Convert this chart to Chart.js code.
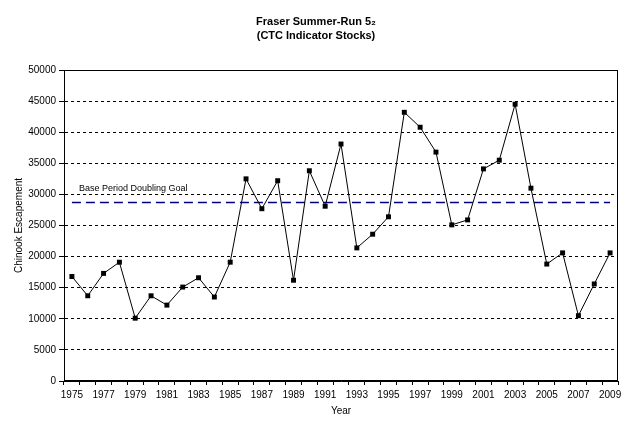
<!DOCTYPE html>
<html lang="en">

<head>
    <title>Fraser Summer-Run 5₂</title>
    <meta charset="utf-8">
    <script src="https://cdn.jsdelivr.net/npm/chart.js"></script>
    <style>
        html, body {
            margin: 0;
            padding: 0;
            background-color: white;
        }

        .chart-box {
            width: 630px;
            height: 430px;
        }
    </style>
</head>

<body>
    <div class="chart-box">
        <canvas id="escChart" width="630" height="430"></canvas>
    </div>

    <script>
        // data
        const years = ['1975', '1976', '1977', '1978', '1979', '1980', '1981', '1982', '1983', '1984',
            '1985', '1986', '1987', '1988', '1989', '1990', '1991', '1992', '1993', '1994',
            '1995', '1996', '1997', '1998', '1999', '2000', '2001', '2002', '2003', '2004',
            '2005', '2006', '2007', '2008', '2009'];
        const escapement = [16800, 13700, 17300, 19100, 10100, 13700, 12200, 15100, 16600, 13500,
            19100, 32500, 27700, 32200, 16200, 33800, 28100, 38100, 21400, 23600,
            26400, 43200, 40800, 36800, 25100, 25900, 34100, 35500, 44500, 31000,
            18800, 20600, 10500, 15600, 20600];
        const goalValue = 28700;
        const goalLabel = 'Base Period Doubling Goal';
        const yTicks = [0, 5000, 10000, 15000, 20000, 25000, 30000, 35000, 40000, 45000, 50000];

        const FONT = 'Liberation Sans, Arial, sans-serif';

        // title, goal label and frame round the plot area
        const extras = {
            id: 'extras',
            afterDraw(chart) {
                const ctx = chart.ctx;
                const a = chart.chartArea;
                const y = chart.scales.y;
                const x = chart.scales.x;
                ctx.save();
                ctx.strokeStyle = '#000';
                ctx.lineWidth = 1;
                ctx.strokeRect(a.left + 0.5, a.top + 0.5, a.right - a.left - 1, a.bottom - a.top - 1);

                ctx.fillStyle = '#000';
                ctx.font = '9px ' + FONT;
                ctx.textAlign = 'left';
                ctx.textBaseline = 'middle';
                ctx.fillText(goalLabel, x.getPixelForValue(0) + 7, y.getPixelForValue(goalValue) - 14);

                ctx.font = 'bold 11px ' + FONT;
                ctx.textAlign = 'center';
                ctx.fillText('Fraser Summer-Run 5₂', 316, 22);
                ctx.fillText('(CTC Indicator Stocks)', 316, 36);
                ctx.restore();
            }
        };

        const ctxEsc = document.getElementById('escChart').getContext('2d');
        new Chart(ctxEsc, {
            type: 'line',
            data: {
                labels: years,
                datasets: [{
                    label: 'Escapement',
                    data: escapement,
                    borderColor: '#000',
                    borderWidth: 1,
                    backgroundColor: '#000',
                    pointStyle: 'rect',
                    pointRadius: 3.5,
                    pointBorderWidth: 0,
                    tension: 0
                }, {
                    label: goalLabel,
                    data: years.map(() => goalValue),
                    borderColor: '#000080',
                    borderWidth: 1.5,
                    borderDash: [9, 5],
                    pointRadius: 0
                }]
            },
            options: {
                responsive: false,
                animation: false,
                layout: { padding: { top: 70, right: 12, left: 0, bottom: 0 } },
                plugins: {
                    legend: { display: false },
                    title: { display: false },
                    tooltip: { enabled: false }
                },
                scales: {
                    x: {
                        offset: true,
                        afterFit: s => { s.height = 49; },
                        grid: {
                            offset: true,
                            drawOnChartArea: false,
                            drawTicks: true,
                            tickLength: 4,
                            tickColor: '#000',
                            tickBorderDash: []
                        },
                        border: { color: '#000', width: 1 },
                        ticks: {
                            autoSkip: false,
                            maxRotation: 0,
                            color: '#000',
                            font: { family: FONT, size: 10 },
                            padding: 4,
                            callback: (v, i) => (i % 2 === 0 ? years[i] : '')
                        },
                        title: {
                            display: true,
                            text: 'Year',
                            color: '#000',
                            font: { family: FONT, size: 10 },
                            padding: { top: 4, bottom: 13 }
                        }
                    },
                    y: {
                        min: 0,
                        max: 50000,
                        afterFit: s => { s.width = 64; },
                        afterBuildTicks: s => { s.ticks = yTicks.map(v => ({ value: v })); },
                        grid: {
                            color: c => (c.tick && (c.tick.value === 0 || c.tick.value === 50000) ? 'rgba(0,0,0,0)' : '#000'),
                            lineWidth: 1,
                            drawTicks: true,
                            tickLength: 5,
                            tickColor: '#000',
                            tickBorderDash: []
                        },
                        border: { color: '#000', width: 1, dash: [3, 3] },
                        ticks: {
                            color: '#000',
                            font: { family: FONT, size: 10 },
                            padding: 3,
                            callback: v => String(v)
                        },
                        title: {
                            display: true,
                            text: 'Chinook Escapement',
                            color: '#000',
                            font: { family: FONT, size: 10 },
                            padding: { top: 13, bottom: 0 }
                        }
                    }
                }
            },
            plugins: [extras]
        });
    </script>
</body>

</html>
